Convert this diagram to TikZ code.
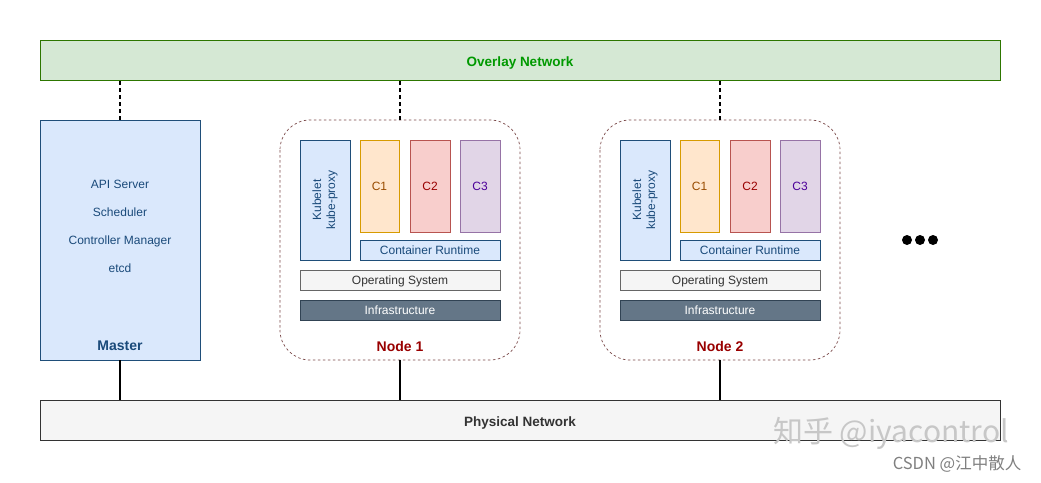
\documentclass[tikz,border=0pt]{standalone}
\usepackage{fontspec}
\setmainfont{Liberation Sans}
\newfontfamily\cjk{Noto Sans CJK SC}
\definecolor{ovfill}{HTML}{D5E8D4}
\definecolor{ovdraw}{HTML}{2D7600}
\definecolor{ovtext}{HTML}{009900}
\definecolor{bluefill}{HTML}{DAE8FC}
\definecolor{bluedraw}{HTML}{1F4E79}
\definecolor{bluetext}{HTML}{1A4A7A}
\definecolor{orfill}{HTML}{FFE6CC}
\definecolor{ordraw}{HTML}{D79B00}
\definecolor{ortext}{HTML}{994C00}
\definecolor{redfill}{HTML}{F8CECC}
\definecolor{reddraw}{HTML}{B85450}
\definecolor{redtext}{HTML}{990000}
\definecolor{purfill}{HTML}{E1D5E7}
\definecolor{purdraw}{HTML}{9673A6}
\definecolor{purtext}{HTML}{4C0099}
\definecolor{greyfill}{HTML}{F5F5F5}
\definecolor{greydraw}{HTML}{666666}
\definecolor{greytext}{HTML}{333333}
\definecolor{infill}{HTML}{647687}
\definecolor{indraw}{HTML}{314354}
\definecolor{nodedraw}{HTML}{7A4848}
\begin{document}
\begin{tikzpicture}[x=1pt,y=-1pt,
  box/.style={draw, line width=0.8pt, inner sep=0pt, align=center, font=\fontsize{12}{14}\selectfont},
  onel/.style={text height=8.6pt, text depth=0pt},
  onelb/.style={text height=10pt, text depth=0pt},
  bluebox/.style={box, fill=bluefill, draw=bluedraw, text=bluetext},
  txt/.style={inner sep=0pt, onel, font=\fontsize{12}{14}\selectfont},
  bigtxt/.style={inner sep=0pt, onelb, font=\fontsize{14}{16}\selectfont\bfseries},
  nettxt/.style={inner sep=0pt, text height=9.7pt, text depth=0pt, font=\fontsize{13.5}{16}\selectfont\bfseries},
  dashlink/.style={line width=1.6pt, dash pattern=on 4pt off 3pt},
  solidlink/.style={line width=1.6pt},
  nodeframe/.style={draw=nodedraw, line width=0.7pt, dash pattern=on 2.5pt off 2.5pt, rounded corners=30pt}
]
\useasboundingbox (0,0) rectangle (1041,482);
\fill[white] (0,0) rectangle (1041,482);

% networks
\node[box, fill=ovfill, draw=ovdraw, minimum width=960pt, minimum height=40pt] (overlay) at (520,60) {};
\node[nettxt, text=ovtext] (ovlabel) at (520,61.5) {Overlay Network};
\node[box, fill=greyfill, draw=greytext, minimum width=960pt, minimum height=40pt] (physical) at (520,420) {};
\node[nettxt, text=greytext] (phlabel) at (520,421.5) {Physical Network};

% master
\node[bluebox, minimum width=160pt, minimum height=240pt] (master) at (120,240) {};
\node[txt, text=bluetext] (api) at (120,184) {API Server};
\node[txt, text=bluetext] (sched) at (120,212) {Scheduler};
\node[txt, text=bluetext] (ctrl) at (120,240) {Controller Manager};
\node[txt, text=bluetext] (etcd) at (120,268) {etcd};
\node[bigtxt, text=bluetext] (mlabel) at (120,345) {Master};
\draw[dashlink] (master.north) -- (master.north |- overlay.south);
\draw[solidlink] (master.south) -- (master.south |- physical.north);

% worker nodes
\foreach \n/\ox in {1/0, 2/320} {
  \begin{scope}[xshift=\ox]
    \draw[nodeframe] (280,120) rectangle (520,360);
    \coordinate (top\n) at (400,120);
    \coordinate (bot\n) at (400,360);
    \node[bluebox, rotate=90, minimum width=120pt, minimum height=50pt] (kube\n) at (325,200) {Kubelet\\kube-proxy};
    \node[box, onel, fill=orfill, draw=ordraw, text=ortext, minimum width=39pt, minimum height=92pt] (ca\n) at (379.5,186) {C1};
    \node[box, onel, fill=redfill, draw=reddraw, text=redtext, minimum width=40pt, minimum height=92pt] (cb\n) at (430,186) {C2};
    \node[box, onel, fill=purfill, draw=purdraw, text=purtext, minimum width=40pt, minimum height=92pt] (cc\n) at (480,186) {C3};
    \node[bluebox, onel, minimum width=140pt, minimum height=20pt] (cr\n) at (430,250) {Container Runtime};
    \node[box, onel, fill=greyfill, draw=greydraw, text=greytext, minimum width=200pt, minimum height=20pt] (os\n) at (400,280) {Operating System};
    \node[box, onel, fill=infill, draw=indraw, text=white, minimum width=200pt, minimum height=20pt] (infra\n) at (400,310) {Infrastructure};
    \node[bigtxt, text=redtext] (nlabel\n) at (400,346) {Node \n};
  \end{scope}
  \draw[dashlink] (top\n) -- (top\n |- overlay.south);
  \draw[solidlink] (bot\n) -- (bot\n |- physical.north);
}

% more dots
\node[inner sep=0pt, minimum size=1pt] (more) at (920,240) {};
\fill (907,240) circle (5pt) (920,240) circle (5pt) (933,240) circle (5pt);

% watermarks
\node[inner sep=0pt, text=black!22, font=\cjk\fontsize{30}{32}\selectfont] (wm1) at (891,433) {知乎 @iyacontrol};
\node[inner sep=0pt, text=black!50, font=\cjk\fontsize{16.5}{18}\selectfont] (wm2) at (957,464) {CSDN @江中散人};
\end{tikzpicture}
\end{document}
